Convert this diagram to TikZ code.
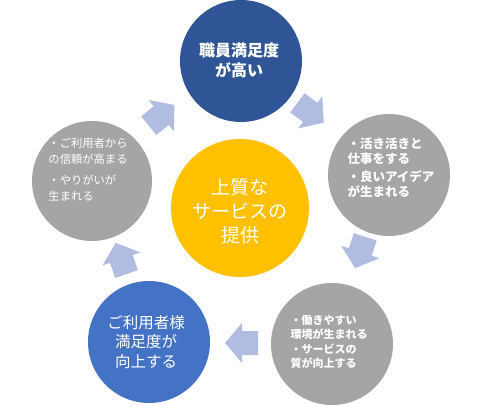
\documentclass[tikz,border=0pt]{standalone}
\usepackage{fontspec}
\newfontfamily\jp{Noto Sans CJK JP}
\definecolor{dblue}{RGB}{47,85,151}
\definecolor{mblue}{RGB}{68,114,196}
\definecolor{cgray}{RGB}{165,165,165}
\definecolor{cyellow}{RGB}{255,192,0}
\definecolor{arrowcol}{RGB}{176,188,224}
\tikzset{
  circ/.style={circle,minimum size=122pt,inner sep=0pt},
  txt/.style={text=white,inner sep=0pt},
  barrow/.pic={\fill[arrowcol] (-17,-12) -- (-1,-12) -- (-1,-20) -- (16,0) -- (-1,20) -- (-1,12) -- (-17,12) -- cycle;}
}
\begin{document}
\begin{tikzpicture}[x=1pt,y=-1pt]
\useasboundingbox (0,0) rectangle (480,405);
% circles
\node[circ,fill=dblue] (top) at (241,61) {};
\node[circ,fill=cgray] (right) at (389,175) {};
\node[circ,fill=cgray] (bright) at (332,344) {};
\node[circ,fill=mblue] (bleft) at (149,342) {};
\node[circ,fill=cgray,minimum size=120pt] (left) at (92,181) {};
\node[circle,minimum size=138pt,inner sep=0pt,fill=cyellow] (center) at (240,208) {};
% arrows
\pic[rotate=-37] at (311,113) {barrow};
\pic[rotate=-108] at (360,253) {barrow};
\pic[rotate=180] at (241,343) {barrow};
\pic[rotate=109] at (121,258) {barrow};
\pic[rotate=39] at (162,115) {barrow};
% texts
\node[txt,align=center,font={\jp\fontsize{16}{20}\selectfont\bfseries}] (ttop) at (239,60) {職員満足度\\が高い};
\node[txt,align=left,font={\jp\fontsize{12.5}{15}\selectfont\bfseries}] (tright) at (391,168) {・活き活きと\\仕事をする\\[3pt]・良いアイデア\\が生まれる};
\node[txt,align=left,font={\jp\fontsize{11}{13.5}\selectfont\bfseries}] (tbright) at (329,342) {・働きやすい\\環境が生まれる\\[2pt]・サービスの\\質が向上する};
\node[txt,align=center,font={\jp\fontsize{15.5}{19.5}\selectfont}] (tbleft) at (146,342) {ご利用者様\\満足度が\\向上する};
\node[txt,align=left,font={\jp\fontsize{11.3}{16}\selectfont}] (tleft) at (88,170) {・ご利用者から\\の信頼が高まる\\[5pt]・やりがいが\\生まれる};
\node[txt,align=center,font={\jp\fontsize{19}{24}\selectfont}] (tcenter) at (240,211) {上質な\\サービスの\\提供};
\end{tikzpicture}
\end{document}
